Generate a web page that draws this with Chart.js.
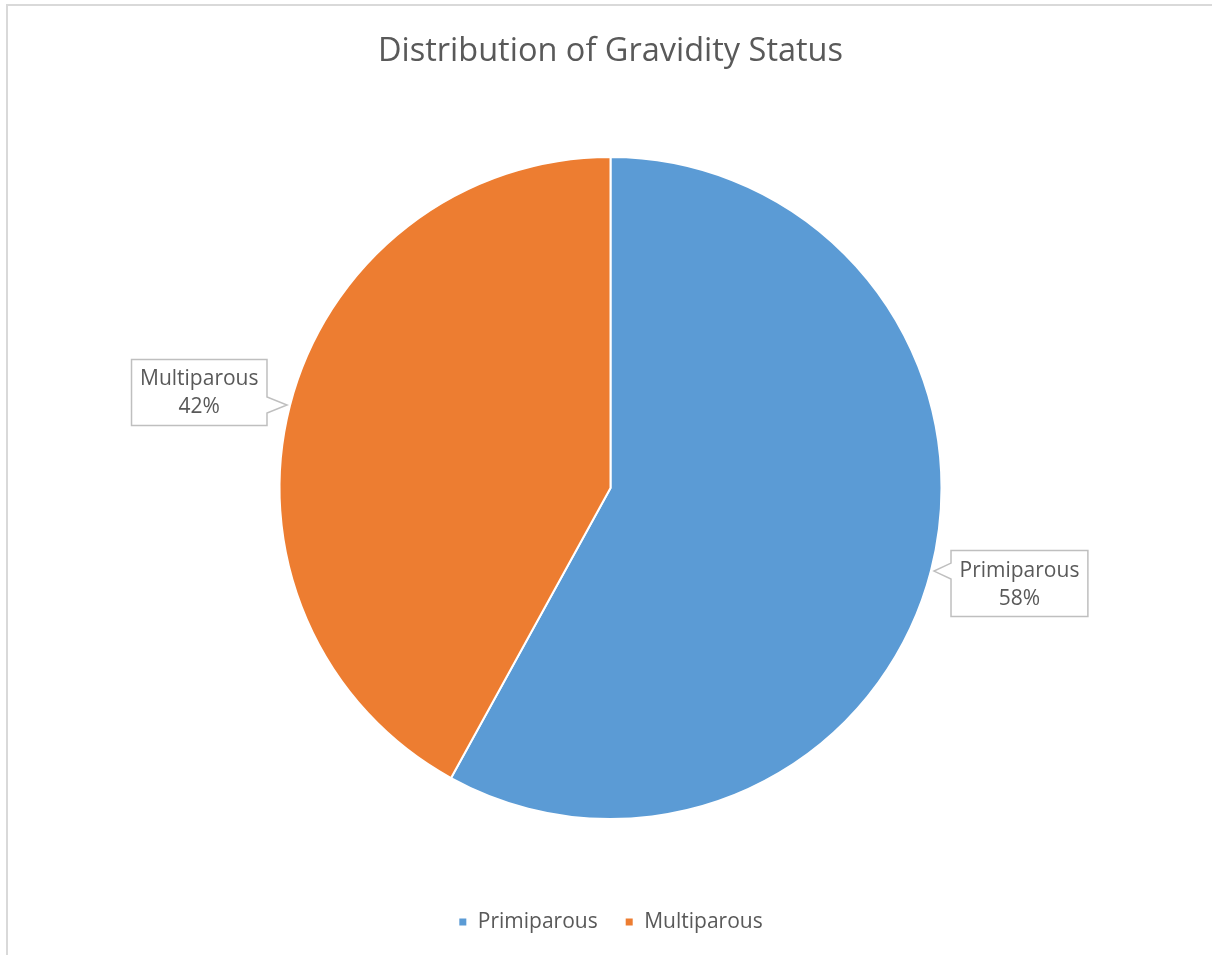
<!DOCTYPE html>
<html>
<head>
<meta charset="utf-8">
<title>Distribution of Gravidity Status</title>
<script src="https://cdn.jsdelivr.net/npm/chart.js@4.4.1/dist/chart.umd.min.js"></script>
<style>
  html, body { margin: 0; padding: 0; background: #ffffff; }
  #wrap { position: relative; width: 1212px; height: 955px; }
</style>
</head>
<body>
<div id="wrap"><canvas id="chart"></canvas></div>
<script>
// Chart data
const chartTitle = 'Distribution of Gravidity Status';
const categories = ['Primiparous', 'Multiparous'];
const percentages = [58, 42];
const sliceColors = ['#5B9BD5', '#ED7D31'];

const FONT = '"Open Sans", Lato, sans-serif';
const TEXT_COLOR = '#595959';

// Thin grey frame along the top and left edges of the chart box
const framePlugin = {
  id: 'frame',
  beforeDraw(chart) {
    const ctx = chart.ctx;
    ctx.save();
    ctx.strokeStyle = '#d9d9d9';
    ctx.lineWidth = 2;
    ctx.beginPath();
    ctx.moveTo(6, 5);
    ctx.lineTo(chart.width, 5);
    ctx.moveTo(7, 4);
    ctx.lineTo(7, chart.height);
    ctx.stroke();
    ctx.restore();
  }
};

// Callout labels: a boxed "name / percent" label whose pointer touches the slice edge
const calloutPlugin = {
  id: 'callouts',
  afterDatasetsDraw(chart) {
    const ctx = chart.ctx;
    const meta = chart.getDatasetMeta(0);
    const data = chart.data.datasets[0].data;
    const total = data.reduce((a, b) => a + b, 0);
    ctx.save();
    ctx.font = '21px ' + FONT;
    meta.data.forEach((arc, i) => {
      const p = arc.getProps(['x', 'y', 'startAngle', 'endAngle', 'outerRadius'], true);
      const mid = (p.startAngle + p.endAngle) / 2;
      const tipX = p.x + Math.cos(mid) * (p.outerRadius + 3);
      const tipY = p.y + Math.sin(mid) * (p.outerRadius + 3);
      const line1 = chart.data.labels[i];
      const line2 = Math.round(data[i] / total * 100) + '%';
      const w = Math.max(ctx.measureText(line1).width, ctx.measureText(line2).width) + 17;
      const h = 66;
      const onLeft = Math.cos(mid) < 0;
      const left = onLeft ? tipX - 20 - w : tipX + 17;
      const right = left + w;
      const cy = tipY + 0.15 * (tipY - p.y);
      const top = cy - h / 2;
      const bottom = cy + h / 2;
      const half = 8;

      ctx.beginPath();
      ctx.moveTo(left, top);
      ctx.lineTo(right, top);
      if (onLeft) {
        ctx.lineTo(right, tipY - half);
        ctx.lineTo(tipX, tipY);
        ctx.lineTo(right, tipY + half);
      }
      ctx.lineTo(right, bottom);
      ctx.lineTo(left, bottom);
      if (!onLeft) {
        ctx.lineTo(left, tipY + half);
        ctx.lineTo(tipX, tipY);
        ctx.lineTo(left, tipY - half);
      }
      ctx.closePath();
      ctx.fillStyle = '#ffffff';
      ctx.fill();
      ctx.strokeStyle = '#bfbfbf';
      ctx.lineWidth = 1.5;
      ctx.stroke();

      ctx.fillStyle = TEXT_COLOR;
      ctx.textAlign = 'center';
      ctx.textBaseline = 'middle';
      const tx = (left + right) / 2;
      ctx.fillText(line1, tx, cy - 13);
      ctx.fillText(line2, tx, cy + 15);
    });
    ctx.restore();
  }
};

new Chart(document.getElementById('chart'), {
  type: 'pie',
  data: {
    labels: categories,
    datasets: [{
      data: percentages,
      backgroundColor: sliceColors,
      borderColor: '#ffffff',
      borderWidth: 2,
      radius: 331
    }]
  },
  options: {
    responsive: true,
    maintainAspectRatio: false,
    animation: false,
    events: [],
    layout: { padding: { left: 9, right: 0, top: 0, bottom: 12.5 } },
    plugins: {
      title: {
        display: true,
        text: chartTitle,
        color: TEXT_COLOR,
        font: { family: FONT, size: 32.5, weight: 'normal' },
        padding: { top: 32, bottom: 20.5 }
      },
      legend: {
        display: true,
        position: 'bottom',
        labels: {
          color: TEXT_COLOR,
          font: { family: FONT, size: 21 },
          boxWidth: 9,
          boxHeight: 9,
          padding: 27
        }
      },
      tooltip: { enabled: false }
    }
  },
  plugins: [framePlugin, calloutPlugin]
});
</script>
</body>
</html>
